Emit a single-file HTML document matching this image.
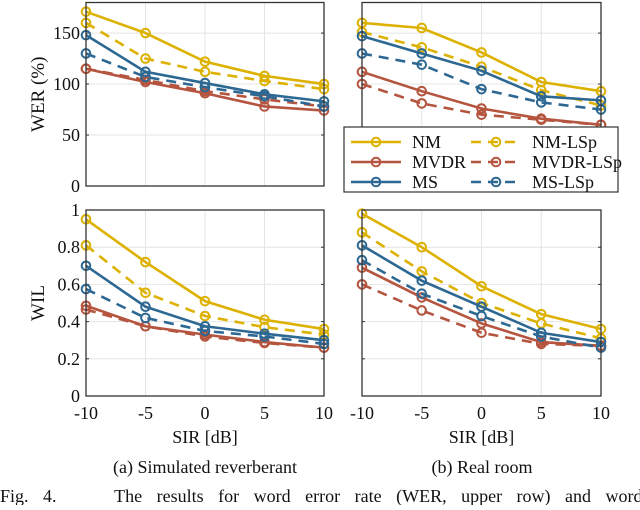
<!DOCTYPE html>
<html><head><meta charset="utf-8"><style>
body{margin:0;background:#fff;width:640px;height:505px;overflow:hidden}
svg{font-family:"Liberation Serif",serif}
</style></head><body>
<svg id="s" width="640" height="505"></svg>
<script>
const xTicks=[-10,-5,0,5,10];
const werTicks=[0,50,100,150];
const wilTicks=[0,0.2,0.4,0.6,0.8,1];
const wilTickLabels=["0","0.2","0.4","0.6","0.8","1"];
const seriesNames=["NM","NM-LSp","MVDR","MVDR-LSp","MS","MS-LSp"];
const werSim_NM=[171,150,122,108,100];
const werSim_NMLSp=[160,125,112,103,95];
const werSim_MVDR=[115,102,91,78,74];
const werSim_MVDRLSp=[115,104,93,85,78];
const werSim_MS=[148,112,101,90,83];
const werSim_MSLSp=[130,107,97,88,78];
const werReal_NM=[160,155,131,102,93];
const werReal_NMLSp=[151,136,117,94,79];
const werReal_MVDR=[112,93,76,66,60];
const werReal_MVDRLSp=[100,81,70,65,60];
const werReal_MS=[147,130,113,88,84];
const werReal_MSLSp=[130,119,95,82,75];
const wilSim_NM=[0.95,0.72,0.51,0.41,0.36];
const wilSim_NMLSp=[0.81,0.555,0.43,0.37,0.33];
const wilSim_MVDR=[0.485,0.375,0.33,0.29,0.26];
const wilSim_MVDRLSp=[0.465,0.375,0.32,0.285,0.26];
const wilSim_MS=[0.70,0.48,0.375,0.335,0.30];
const wilSim_MSLSp=[0.575,0.42,0.35,0.32,0.28];
const wilReal_NM=[0.98,0.80,0.59,0.44,0.36];
const wilReal_NMLSp=[0.88,0.67,0.50,0.39,0.31];
const wilReal_MVDR=[0.69,0.53,0.39,0.29,0.27];
const wilReal_MVDRLSp=[0.60,0.46,0.34,0.28,0.27];
const wilReal_MS=[0.81,0.62,0.48,0.34,0.29];
const wilReal_MSLSp=[0.73,0.55,0.43,0.32,0.26];

const colors={NM:"#DDB100",MVDR:"#B5553F",MS:"#2D6893"};
const NS="http://www.w3.org/2000/svg";
const svg=document.getElementById('s');
function mk(t,a,p){const e=document.createElementNS(NS,t);for(const k in a)e.setAttribute(k,a[k]);(p||svg).appendChild(e);return e;}
function txt(x,y,s,opt,p){const e=mk('text',Object.assign({x:x,y:y,'font-size':18,fill:'#111','text-anchor':'middle'},opt||{}),p);e.textContent=s;return e;}

function panel(name,x0,x1,yTop,yBot,ymin,ymax,yt,ytl,showY,ylabel,data){
  const g=mk('g',{});
  
  
  const X=v=>x0+(v+10)/20*(x1-x0);
  const Y=v=>yBot-(v-ymin)/(ymax-ymin)*(yBot-yTop);
  mk('rect',{x:x0,y:yTop,width:x1-x0,height:yBot-yTop,fill:'#fff'},g);
  xTicks.forEach(t=>{const l=mk('line',{x1:X(t),x2:X(t),y1:yTop,y2:yBot,stroke:'#e4e4e4','stroke-width':1},g);});
  yt.forEach((t,i)=>{const l=mk('line',{x1:x0,x2:x1,y1:Y(t),y2:Y(t),stroke:'#e4e4e4','stroke-width':1},g);
    mk('line',{x1:x0,x2:x0+3,y1:Y(t),y2:Y(t),stroke:'#333'},g);mk('line',{x1:x1,x2:x1-3,y1:Y(t),y2:Y(t),stroke:'#333'},g);
    if(showY){const e=txt(x0-6,Y(t)+6,ytl[i],{'text-anchor':'end'},g);}});
  data.forEach(d=>{
    const pts=d.v.map((v,i)=>X(xTicks[i])+','+Y(v)).join(' ');
    const pl=mk('polyline',{points:pts,fill:'none',stroke:colors[d.c],'stroke-width':2.6,'stroke-dasharray':d.dash?'10,7':'none'},g);
    
    
    d.v.forEach((v,i)=>{const c=mk('circle',{cx:X(xTicks[i]),cy:Y(v),r:4.3,fill:'none',stroke:colors[d.c],'stroke-width':2},g);
      
      });
  });
  mk('rect',{x:x0,y:yTop,width:x1-x0,height:yBot-yTop,fill:'none',stroke:'#333','stroke-width':1.3},g);
  if(ylabel){const e=txt(0,0,ylabel,{transform:`translate(${x0-42},${(yTop+yBot)/2}) rotate(-90)`,'font-size':19},g);}
  return {X:X,g:g};
}
function sets(a){return [
 {n:"NM",c:"NM",dash:false,v:a[0]},{n:"NM-LSp",c:"NM",dash:true,v:a[1]},
 {n:"MVDR",c:"MVDR",dash:false,v:a[2]},{n:"MVDR-LSp",c:"MVDR",dash:true,v:a[3]},
 {n:"MS",c:"MS",dash:false,v:a[4]},{n:"MS-LSp",c:"MS",dash:true,v:a[5]}];}
const wtl=werTicks.map(String);
panel('wer-simulated-panel',86,324,2.5,186,0,180,werTicks,wtl,true,'WER (%)',sets([werSim_NM,werSim_NMLSp,werSim_MVDR,werSim_MVDRLSp,werSim_MS,werSim_MSLSp]));
panel('wer-real-panel',362,601,2.5,186,0,180,werTicks,wtl,false,null,sets([werReal_NM,werReal_NMLSp,werReal_MVDR,werReal_MVDRLSp,werReal_MS,werReal_MSLSp]));
const p3=panel('wil-simulated-panel',86,324,210,396,0,1,wilTicks,wilTickLabels,true,'WIL',sets([wilSim_NM,wilSim_NMLSp,wilSim_MVDR,wilSim_MVDRLSp,wilSim_MS,wilSim_MSLSp]));
const p4=panel('wil-real-panel',362,601,210,396,0,1,wilTicks,wilTickLabels,false,null,sets([wilReal_NM,wilReal_NMLSp,wilReal_MVDR,wilReal_MVDRLSp,wilReal_MS,wilReal_MSLSp]));
[p3,p4].forEach(p=>{xTicks.forEach(t=>{const e=txt(p.X(t),419,String(t),{},p.g);});
 const e=txt(p.X(0),443,'SIR [dB]',{},p.g);});

// legend
const lg=mk('g',{});


mk('rect',{x:344,y:127,width:274,height:65,fill:'#fff',stroke:'#333','stroke-width':1.2},lg);
const rows=[[142,"NM","NM-LSp","NM"],[162,"MVDR","MVDR-LSp","MVDR"],[182,"MS","MS-LSp","MS"]];
rows.forEach(r=>{
 [[351,r[1],false],[471,r[2],true]].forEach(([lx,lab,dash])=>{
  const e=mk('g',{},lg);
  
  
  mk('line',{x1:lx,x2:lx+50,y1:r[0],y2:r[0],stroke:colors[r[3]],'stroke-width':2.6,'stroke-dasharray':dash?'10,7':'none'},e);
  mk('circle',{cx:lx+25,cy:r[0],r:4.3,fill:'none',stroke:colors[r[3]],'stroke-width':2},e);
  txt(lx+61,r[0]+6,lab,{'text-anchor':'start','font-size':18},e);
 });
});
let e=txt(205,473,'(a) Simulated reverberant',{'font-size':18});
e=txt(482,473,'(b) Real room',{'font-size':18});
e=txt(0,502,'Fig. 4.    The results for word error rate (WER, upper row) and word',{'font-size':18,'text-anchor':'start',style:'white-space:pre;word-spacing:10px'});
</script>
</body></html>
